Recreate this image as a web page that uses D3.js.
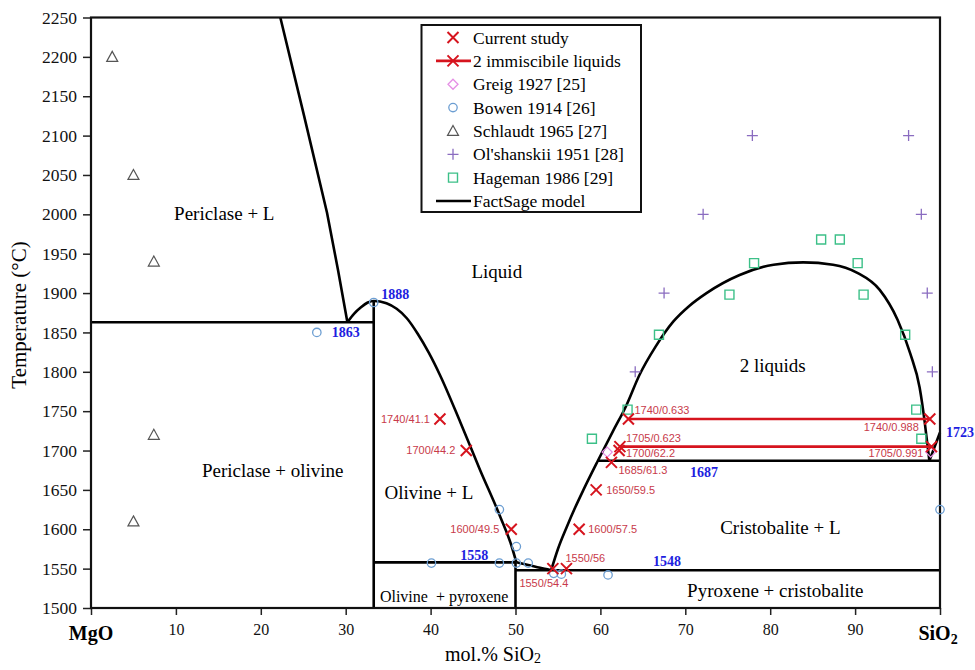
<!DOCTYPE html>
<html>
<head>
<meta charset="utf-8">
<script src="https://cdn.jsdelivr.net/npm/d3@7"></script>
<style>
  body { margin: 0; background: #fff; }
  svg { display: block; font-family: "Liberation Serif", "Times New Roman", serif; }
</style>
</head>
<body>
<div id="chart"></div>
<script>
// axis ticks
var tempTicks = d3.range(1500, 2251, 50);
var compTicks = d3.range(0, 101, 10);

// current study (red crosses) with their labels
var studyX = [41.1, 44.2, 49.5, 54.4, 56, 57.5, 59.5, 61.3, 62.2, 62.3, 63.3, 98.8, 99.0];
var studyT = [1740, 1700, 1600, 1550, 1550, 1600, 1650, 1685, 1700, 1705, 1740, 1740, 1705];
var studyLabels = ["1740/41.1", "1700/44.2", "1600/49.5", "1550/54.4", "1550/56", "1600/57.5",
  "1650/59.5", "1685/61.3", "1700/62.2", "1705/0.623", "1740/0.633", "1740/0.988", "1705/0.991"];

// 2 immiscible liquids tie lines
var tieT = [1740, 1705];
var tieLeft = [63.3, 62.3];
var tieRight = [98.8, 99.0];

// literature data
var greigX = [60.8, 98.9];
var greigT = [1698, 1698];
var bowenX = [26.6, 33.3, 40.1, 48.1, 48.1, 50.1, 50.1, 51.5, 54.5, 55.4, 60.9, 100];
var bowenT = [1850, 1888, 1557, 1557, 1625, 1578, 1557, 1557, 1544, 1543, 1542, 1625];
var schlaudtX = [2.5, 5.0, 7.4, 7.4, 5.0];
var schlaudtT = [2200, 2050, 1940, 1720, 1610];
var olshanskiiX = [77.9, 96.3, 72.1, 97.8, 67.5, 98.5, 64.1, 99.1];
var olshanskiiT = [2100, 2100, 2000, 2000, 1900, 1900, 1800, 1800];
var hagemanX = [59.0, 97.8, 63.2, 97.2, 66.9, 95.9, 75.2, 91.0, 78.1, 90.3, 86.0, 88.2];
var hagemanT = [1715, 1715, 1752, 1752, 1847, 1847, 1898, 1898, 1938, 1938, 1968, 1968];

// FactSage model lines [x, T]
var periclaseLiquidus = [[22.3, 2250], [25.1, 2125], [27.8, 2002], [29.1, 1929], [30.2, 1863]];
var olivineLiquidus = [[30.2, 1863], [31.0, 1874], [31.8, 1882], [32.6, 1888], [33.3, 1890],
  [34.8, 1887], [36.0, 1880], [37.2, 1868], [38.5, 1848], [39.8, 1824], [41.1, 1796],
  [43.5, 1736], [45.8, 1676], [48.2, 1616], [49.5, 1580], [50.1, 1558]];
var protoLiquidus = [[50.1, 1558], [51.5, 1554.6], [52.9, 1551], [54.2, 1548]];
var silicaLiquidus = [[54.2, 1548], [55.0, 1575], [56.0, 1602], [57.0, 1627], [58.0, 1650], [59.7, 1687],
  [61.5, 1725], [63.0, 1756], [64.6, 1796], [66.5, 1832], [68.6, 1864], [70.5, 1884],
  [72.5, 1900], [76.4, 1923], [80.4, 1936], [83.9, 1939], [87.4, 1936], [90.2, 1926],
  [92.9, 1904], [95.0, 1866], [96.5, 1823], [97.6, 1780], [98.2, 1736], [98.5, 1709], [98.75, 1687]];
var cristobaliteLiquidus = [[98.75, 1687], [100, 1723]];
var invariantLines = [
  [[0, 1863], [33.3, 1863]],
  [[33.3, 1558], [50.1, 1558]],
  [[50, 1548], [100, 1548]],
  [[59.7, 1687], [100, 1687]],
  [[33.3, 1500], [33.3, 1890]],
  [[50, 1500], [50, 1558]]
];
var invariantT = ["1888", "1863", "1558", "1548", "1687", "1723"];

var regionNames = ["Periclase + L", "Liquid", "Periclase + olivine", "Olivine + L", "2 liquids",
  "Cristobalite + L", "Pyroxene + cristobalite", "Olivine  + pyroxene"];

var legendLabels = ["Current study", "2 immiscibile liquids", "Greig 1927 [25]", "Bowen 1914 [26]",
  "Schlaudt 1965 [27]", "Ol'shanskii 1951 [28]", "Hageman 1986 [29]", "FactSage model"];

// ---------------------------------------------------------------
var W = 975, H = 670;
var svg = d3.select('#chart').append('svg').attr('width', W).attr('height', H);

var x = d3.scaleLinear().domain([0, 100]).range([91, 940]);
var y = d3.scaleLinear().domain([1500, 2250]).range([608, 17.5]);

var red = '#d6141e', redText = '#c83a4a', blue = '#1e1ee0';

// axes
var yAxis = svg.append('g').attr('transform', 'translate(91,0)')
  .call(d3.axisLeft(y).tickValues(tempTicks).tickSize(8).tickSizeOuter(0).tickPadding(6).tickFormat(d3.format('d')));
yAxis.selectAll('text').attr('font-size', 17.5).attr('font-family', '"Liberation Serif", serif').attr('fill', '#111');

var xAxis = svg.append('g').attr('transform', 'translate(0,608)')
  .call(d3.axisBottom(x).tickValues(compTicks).tickSize(7).tickSizeOuter(0).tickPadding(9)
    .tickFormat(function (d) { return (d === 0 || d === 100) ? '' : d; }));
xAxis.selectAll('text').attr('font-size', 16).attr('font-family', '"Liberation Serif", serif').attr('fill', '#111');
svg.selectAll('.tick line').attr('stroke', '#222').attr('stroke-width', 1.5);
svg.selectAll('.domain').attr('stroke', 'none');

svg.append('text').attr('x', x(0)).attr('y', 640).attr('text-anchor', 'middle')
  .attr('font-weight', 'bold').attr('font-size', 20).text('MgO');
var sio = svg.append('text').attr('x', x(100) - 2).attr('y', 640).attr('text-anchor', 'middle')
  .attr('font-weight', 'bold').attr('font-size', 20);
sio.append('tspan').text('SiO');
sio.append('tspan').attr('font-size', 14).attr('dy', 4).text('2');

// axis titles
svg.append('text').attr('transform', 'translate(26,315) rotate(-90)').attr('text-anchor', 'middle')
  .attr('font-size', 21).text('Temperature (°C)');
var xt = svg.append('text').attr('x', 493).attr('y', 661).attr('text-anchor', 'middle').attr('font-size', 20);
xt.append('tspan').text('mol.% SiO');
xt.append('tspan').attr('font-size', 14).attr('dy', 2).text('2');

// FactSage lines
var line = d3.line().x(function (d) { return x(d[0]); }).y(function (d) { return y(d[1]); });
var curve = d3.line().x(function (d) { return x(d[0]); }).y(function (d) { return y(d[1]); }).curve(d3.curveMonotoneX);
var model = svg.append('g').attr('fill', 'none').attr('stroke', '#000').attr('stroke-width', 2.6);
[periclaseLiquidus, cristobaliteLiquidus].concat(invariantLines).forEach(function (seg) {
  model.append('path').attr('d', line(seg));
});
[olivineLiquidus, protoLiquidus, silicaLiquidus].forEach(function (seg) {
  model.append('path').attr('d', curve(seg));
});

// frame
svg.append('rect').attr('x', 91).attr('y', 17.5).attr('width', 849).attr('height', 590.5)
  .attr('fill', 'none').attr('stroke', '#111').attr('stroke-width', 2.2);

// region labels
var regionPos = [[15.7, 2001], [47.8, 1928], [21.4, 1675], [39.8, 1647], [80.3, 1808],
  [81.2, 1603], [80.6, 1523], [41.6, 1515]];
svg.append('g').selectAll('text').data(regionNames).enter().append('text')
  .attr('x', function (d, i) { return x(regionPos[i][0]); })
  .attr('y', function (d, i) { return y(regionPos[i][1]); })
  .attr('dy', '0.35em').attr('text-anchor', 'middle')
  .attr('font-size', function (d, i) { return i === 7 ? 16 : 19; })
  .style('white-space', 'pre')
  .text(function (d) { return d; });

// invariant temperatures (blue)
var invPos = [[34.2, 1899], [28.35, 1850], [43.5, 1567], [66.2, 1559], [70.55, 1673], [100.7, 1723]];
svg.append('g').selectAll('text').data(invariantT).enter().append('text')
  .attr('x', function (d, i) { return x(invPos[i][0]); })
  .attr('y', function (d, i) { return y(invPos[i][1]); })
  .attr('dy', '0.35em').attr('font-size', 14).attr('font-weight', 'bold').attr('fill', blue)
  .text(function (d) { return d; });

// marker helpers
function cross(s) { return 'M' + (-s) + ',' + (-s) + 'L' + s + ',' + s + 'M' + (-s) + ',' + s + 'L' + s + ',' + (-s); }
var shapes = {
  cross: function () { return cross(5.5); },
  diamond: function () { return 'M0,-5L5,0L0,5L-5,0Z'; },
  circle: function () { return 'M4.2,0A4.2,4.2 0 1,1 -4.2,0A4.2,4.2 0 1,1 4.2,0Z'; },
  triangle: function () { return 'M0,-5.5L5.5,4.5L-5.5,4.5Z'; },
  plus: function () { return 'M-5.5,0L5.5,0M0,-5.5L0,5.5'; },
  square: function () { return 'M-4.5,-4.5L4.5,-4.5L4.5,4.5L-4.5,4.5Z'; }
};
function scatter(xs, ts, shape, color, width) {
  svg.append('g').selectAll('path').data(xs).enter().append('path')
    .attr('transform', function (d, i) { return 'translate(' + x(d) + ',' + y(ts[i]) + ')'; })
    .attr('d', shapes[shape]()).attr('fill', 'none').attr('stroke', color).attr('stroke-width', width);
}

scatter(schlaudtX, schlaudtT, 'triangle', '#555', 1.2);
scatter(olshanskiiX, olshanskiiT, 'plus', '#8a6cc0', 1.3);
scatter(hagemanX, hagemanT, 'square', '#3cc088', 1.4);
scatter(bowenX, bowenT, 'circle', '#6c9ed2', 1.3);
scatter(greigX, greigT, 'diamond', '#e58fe5', 1.3);

// tie lines
svg.append('g').selectAll('line').data(tieT).enter().append('line')
  .attr('x1', function (d, i) { return x(tieLeft[i]); })
  .attr('x2', function (d, i) { return x(tieRight[i]); })
  .attr('y1', function (d) { return y(d); }).attr('y2', function (d) { return y(d); })
  .attr('stroke', red).attr('stroke-width', 2.6);

scatter(studyX, studyT, 'cross', red, 2);

// study labels: [anchor, dx, dy]
var studyLabelPos = [['end', -10, 0], ['end', -11, 0], ['end', -12, 0], ['middle', -9, 15],
  ['start', -1, -10], ['start', 9, 0], ['start', 10, 0], ['start', 7, 8], ['start', 7, 3],
  ['start', 6, -8], ['start', 6, -9], ['end', -11, 8], ['end', -8, 7]];
svg.append('g').selectAll('text').data(studyLabels).enter().append('text')
  .attr('x', function (d, i) { return x(studyX[i]) + studyLabelPos[i][1]; })
  .attr('y', function (d, i) { return y(studyT[i]) + studyLabelPos[i][2]; })
  .attr('dy', '0.35em')
  .attr('text-anchor', function (d, i) { return studyLabelPos[i][0]; })
  .attr('font-family', '"Liberation Sans", Arial, sans-serif').attr('font-size', 11)
  .attr('fill', redText)
  .text(function (d) { return d; });

// legend
var lg = svg.append('g');
lg.append('rect').attr('x', 421.5).attr('y', 25).attr('width', 219.5).attr('height', 187)
  .attr('fill', '#fff').attr('stroke', '#111').attr('stroke-width', 2);
var legendY = d3.scaleLinear().domain([0, 7]).range([37.5, 201]);
var legendMarks = [
  ['cross', red, 2], ['cross', red, 2], ['diamond', '#e58fe5', 1.3], ['circle', '#6c9ed2', 1.3],
  ['triangle', '#555', 1.2], ['plus', '#8a6cc0', 1.3], ['square', '#3cc088', 1.4], [null, '#000', 2.6]
];
legendLabels.forEach(function (lab, i) {
  var yy = legendY(i);
  if (i === 1 || i === 7) {
    lg.append('line').attr('x1', 436).attr('x2', 471).attr('y1', yy).attr('y2', yy)
      .attr('stroke', i === 1 ? red : '#000').attr('stroke-width', 2.6);
  }
  if (legendMarks[i][0]) {
    lg.append('path').attr('transform', 'translate(453,' + yy + ')')
      .attr('d', shapes[legendMarks[i][0]]()).attr('fill', 'none')
      .attr('stroke', legendMarks[i][1]).attr('stroke-width', legendMarks[i][2]);
  }
  lg.append('text').attr('x', 473).attr('y', yy).attr('dy', '0.35em').attr('font-size', 17.5).text(lab);
});
</script>
</body>
</html>
